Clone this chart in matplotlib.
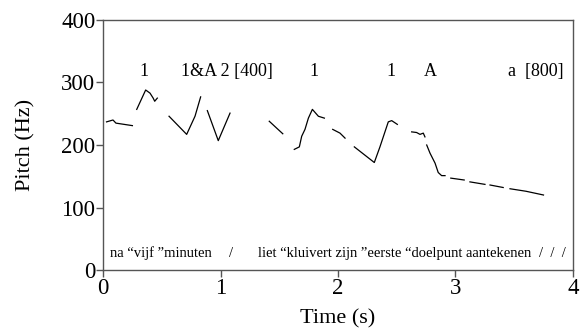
import matplotlib.pyplot as plt

# pitch track, one list per voiced stretch (time in s, pitch in Hz)
t_1 = [0.03, 0.085, 0.11, 0.25]
f_1 = [237, 240, 235, 231]
t_2 = [0.287, 0.363, 0.40, 0.427, 0.44, 0.462]
f_2 = [257, 288, 283, 275, 270, 275]
t_3 = [0.562, 0.712, 0.783, 0.831]
f_3 = [246, 217, 246, 277]
t_4 = [0.888, 0.981, 1.081]
f_4 = [255, 207, 251]
t_5 = [1.415, 1.478, 1.53]
f_5 = [238, 227, 218]
t_6 = [1.628, 1.671, 1.691, 1.719, 1.748, 1.782, 1.833, 1.884]
f_6 = [193, 197, 214, 225, 243, 257, 246, 243]
t_7 = [1.955, 2.017, 2.06]
f_7 = [225, 219, 211]
t_8 = [2.139, 2.309, 2.357, 2.428, 2.457, 2.505]
f_8 = [197, 172, 197, 237, 239, 233]
t_9 = [2.627, 2.669, 2.698, 2.726, 2.74]
f_9 = [221, 220, 217, 219, 213]
t_10 = [2.755, 2.783, 2.826, 2.853, 2.882, 2.911]
f_10 = [200, 187, 171, 156, 151, 151]
t_11 = [2.96, 3.074]
f_11 = [147, 144]
t_12 = [3.123, 3.251]
f_12 = [141, 137]
t_13 = [3.294, 3.406]
f_13 = [136, 132]
t_14 = [3.464, 3.60, 3.749]
f_14 = [130, 126, 120]

segments = [(t_1, f_1), (t_2, f_2), (t_3, f_3), (t_4, f_4), (t_5, f_5),
            (t_6, f_6), (t_7, f_7), (t_8, f_8), (t_9, f_9), (t_10, f_10),
            (t_11, f_11), (t_12, f_12), (t_13, f_13), (t_14, f_14)]

# annotations above the contour
top_labels = ["1", "1&A 2 [400]", "1", "1", "A", "a  [800]"]
top_x = [0.345, 0.665, 1.795, 2.45, 2.79, 3.45]
top_ha = ["center", "left", "center", "center", "center", "left"]

# text tier at the bottom
bottom_labels = ["na \u201cvijf \u201dminuten", "/",
                 "liet \u201ckluivert zijn \u201deerste \u201cdoelpunt aantekenen", "/  /  /"]
bottom_x = [0.06, 1.07, 1.32, 3.71]

plt.rcParams['font.family'] = ['Liberation Serif', 'DejaVu Serif']

fig = plt.figure(figsize=(5.81, 3.30), dpi=100)
ax = fig.add_axes([0.1773, 0.1818, 0.8089, 0.7576])

for t, f in segments:
    ax.plot(t, f, color='black', lw=0.9)

for lab, x, ha in zip(top_labels, top_x, top_ha):
    ax.text(x, 318, lab, ha=ha, va='center', fontsize=13)

for lab, x in zip(bottom_labels, bottom_x):
    ax.text(x, 27, lab, ha='left', va='center', fontsize=10.5)

ax.set_xlim(0, 4)
ax.set_ylim(0, 400)
ax.set_xticks([0, 1, 2, 3, 4])
ax.set_yticks([0, 100, 200, 300, 400])
ax.tick_params(direction='out', length=5, width=1, colors='#555555',
               labelcolor='black', labelsize=16.5, pad=0.5)
for s in ax.spines.values():
    s.set_color('#555555')
    s.set_linewidth(1)

ax.set_xlabel("Time (s)", fontsize=16)
ax.set_ylabel("Pitch (Hz)", fontsize=16)
ax.xaxis.set_label_coords(0.5, -0.195)
ax.yaxis.set_label_coords(-0.165, 0.5)
ax.xaxis.label.set_va('center')
ax.yaxis.label.set_va('center')

fig.savefig("out.png", dpi=100)
